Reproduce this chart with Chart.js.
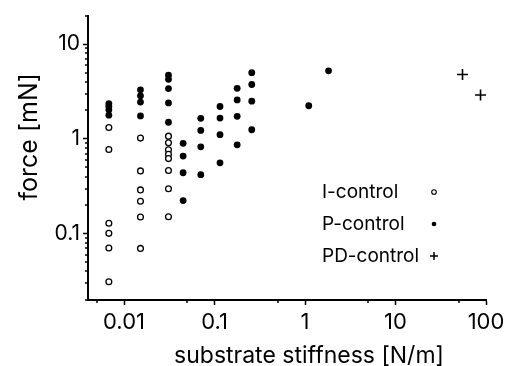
<!DOCTYPE html>
<html>
<head>
<meta charset="utf-8">
<script src="https://cdn.jsdelivr.net/npm/chart.js@4.4.1/dist/chart.umd.min.js"></script>
<style>
    html, body { margin: 0; padding: 0; background: #fff; }
    #wrap { width: 517px; height: 366px; position: relative; }
</style>
</head>
<body>
<div id="wrap"><canvas id="chart"></canvas></div>
<script>
// I-control (open circles)
const iStiffness = [0.0068, 0.0068, 0.0068, 0.0068, 0.0068, 0.0068,
    0.0152, 0.0152, 0.0152, 0.0152, 0.0152, 0.0152,
    0.031, 0.031, 0.031, 0.031, 0.031, 0.031, 0.031, 0.031];
const iForce = [1.32, 0.775, 0.129, 0.101, 0.0707, 0.0312,
    1.02, 0.46, 0.29, 0.22, 0.15, 0.07,
    1.07, 0.91, 0.77, 0.69, 0.62, 0.465, 0.298, 0.151];

// P-control (filled circles)
const pStiffness = [0.0068, 0.0068, 0.0068, 0.0068,
    0.0152, 0.0152, 0.0152, 0.0152,
    0.031, 0.031, 0.031, 0.031, 0.031,
    0.045, 0.045, 0.045, 0.045,
    0.0705, 0.0705, 0.0705, 0.0705,
    0.115, 0.115, 0.115, 0.115,
    0.178, 0.178, 0.178, 0.178,
    0.258, 0.258, 0.258, 0.258,
    1.1, 1.82];
const pForce = [2.36, 2.2, 2.03, 1.78,
    3.3, 2.85, 2.45, 1.75,
    4.7, 4.25, 3.4, 2.4, 1.5,
    0.9, 0.66, 0.44, 0.224,
    1.65, 1.23, 0.825, 0.42,
    2.2, 1.66, 1.11, 0.56,
    3.42, 2.58, 1.73, 0.866,
    5.0, 3.75, 2.5, 1.25,
    2.24, 5.23];

// PD-control (crosses)
const pdStiffness = [55, 87];
const pdForce = [4.79, 2.91];

const seriesLabels = ['I-control', 'P-control', 'PD-control'];

const xMajorTicks = [0.01, 0.1, 1, 10, 100];
const xMinorTicks = [0.005, 0.05, 0.5, 5, 50];
const xTickLabels = ['0.01', '0.1', '1', '10', '100'];
const yMajorTicks = [0.1, 1, 10];
const yMinorTicks = [0.02, 0.03, 0.04, 0.05, 0.06, 0.07, 0.08, 0.09,
    0.2, 0.3, 0.4, 0.5, 0.6, 0.7, 0.8, 0.9,
    2, 3, 4, 5, 6, 7, 8, 9, 20];
const yTickLabels = ['0.1', '1', '10'];

const xTitle = 'substrate stiffness [N/m]';
const yTitle = 'force [mN]';

const FONT_FAMILY = 'Inter, "Liberation Sans", Arial, sans-serif';

const toPoints = (xs, ys) => xs.map((x, i) => ({ x: x, y: ys[i] }));

const buildTicks = (majors, minors) => (scale) => {
    scale.ticks = [...majors, ...minors]
        .sort((a, b) => a - b)
        .map(v => ({ value: v, major: majors.includes(v) }));
};

// short minor ticks, axis titles and the legend (marker right of text)
const decor = {
    id: 'decor',
    afterDraw(chart) {
        const { ctx, chartArea: a } = chart;
        const x = chart.scales.x, y = chart.scales.y;
        ctx.save();
        ctx.strokeStyle = '#000';
        ctx.lineWidth = 1.5;
        ctx.beginPath();
        x.ticks.forEach(t => {
            if (t.major) return;
            const px = Math.round(x.getPixelForValue(t.value));
            ctx.moveTo(px, a.bottom);
            ctx.lineTo(px, a.bottom + 3);
        });
        y.ticks.forEach(t => {
            if (t.major) return;
            const py = Math.round(y.getPixelForValue(t.value));
            ctx.moveTo(a.left - 3, py);
            ctx.lineTo(a.left, py);
        });
        ctx.stroke();

        ctx.fillStyle = '#000';
        ctx.textAlign = 'center';
        ctx.textBaseline = 'middle';
        ctx.font = '23px ' + FONT_FAMILY;
        ctx.fillText(xTitle, (a.left + a.right) / 2 + 22, a.bottom + 56);
        ctx.save();
        ctx.font = '25px ' + FONT_FAMILY;
        ctx.translate(29, (a.top + a.bottom) / 2 - 21);
        ctx.rotate(-Math.PI / 2);
        ctx.fillText(yTitle, 0, 0);
        ctx.restore();

        // legend
        ctx.font = '19px ' + FONT_FAMILY;
        ctx.textAlign = 'left';
        const lx = 322, mx = 434;
        chart.data.datasets.forEach((ds, i) => {
            const ly = 192 + i * 32;
            ctx.fillStyle = '#000';
            ctx.fillText(ds.label, lx, ly);
            ctx.beginPath();
            if (ds.pointStyle === 'cross') {
                ctx.lineWidth = 1.5;
                ctx.moveTo(mx - 4, ly);
                ctx.lineTo(mx + 4, ly);
                ctx.moveTo(mx, ly - 4);
                ctx.lineTo(mx, ly + 4);
                ctx.stroke();
            } else {
                ctx.arc(mx, ly, 2.3, 0, Math.PI * 2);
                ctx.fillStyle = ds.backgroundColor;
                ctx.fill();
                ctx.lineWidth = 1.1;
                if (ds.pointBorderWidth) ctx.stroke();
            }
        });
        ctx.restore();
    }
};

new Chart(document.getElementById('chart'), {
    type: 'scatter',
    data: {
        datasets: [{
            label: seriesLabels[0],
            data: toPoints(iStiffness, iForce),
            pointStyle: 'circle',
            pointRadius: 2.9,
            pointBorderWidth: 1.3,
            borderColor: '#000',
            backgroundColor: '#fff'
        }, {
            label: seriesLabels[1],
            data: toPoints(pStiffness, pForce),
            pointStyle: 'circle',
            pointRadius: 3.4,
            pointBorderWidth: 0,
            borderColor: '#000',
            backgroundColor: '#000'
        }, {
            label: seriesLabels[2],
            data: toPoints(pdStiffness, pdForce),
            pointStyle: 'cross',
            pointRadius: 5.5,
            pointBorderWidth: 1.6,
            borderColor: '#000',
            backgroundColor: '#000'
        }]
    },
    options: {
        responsive: true,
        maintainAspectRatio: false,
        animation: false,
        layout: { padding: { top: 13, right: 31, left: 0, bottom: 0 } },
        plugins: {
            legend: { display: false },
            tooltip: { enabled: false }
        },
        scales: {
            x: {
                type: 'logarithmic',
                min: 0.004,
                max: 100,
                afterBuildTicks: buildTicks(xMajorTicks, xMinorTicks),
                afterFit: (s) => { s.height = 66; },
                border: { display: true, color: '#000', width: 2 },
                grid: {
                    drawOnChartArea: false,
                    tickLength: 5,
                    tickWidth: 1.5,
                    tickColor: (c) => (c.tick && c.tick.major ? '#000' : 'rgba(0,0,0,0)')
                },
                ticks: {
                    autoSkip: false,
                    maxRotation: 0,
                    padding: 4,
                    color: '#000',
                    font: { family: FONT_FAMILY, size: 22 },
                    callback: (v) => {
                        const k = xMajorTicks.indexOf(v);
                        return k >= 0 ? xTickLabels[k] : '';
                    }
                }
            },
            y: {
                type: 'logarithmic',
                min: 0.02,
                max: 20,
                afterBuildTicks: buildTicks(yMajorTicks, yMinorTicks),
                afterFit: (s) => { s.width = 88; },
                border: { display: true, color: '#000', width: 2 },
                grid: {
                    drawOnChartArea: false,
                    tickLength: 5,
                    tickWidth: 1.5,
                    tickColor: (c) => (c.tick && c.tick.major ? '#000' : 'rgba(0,0,0,0)')
                },
                ticks: {
                    autoSkip: false,
                    padding: 3,
                    color: '#000',
                    font: { family: FONT_FAMILY, size: 21 },
                    callback: (v) => {
                        const k = yMajorTicks.indexOf(v);
                        return k >= 0 ? yTickLabels[k] : '';
                    }
                }
            }
        }
    },
    plugins: [decor]
});
</script>
</body>
</html>
